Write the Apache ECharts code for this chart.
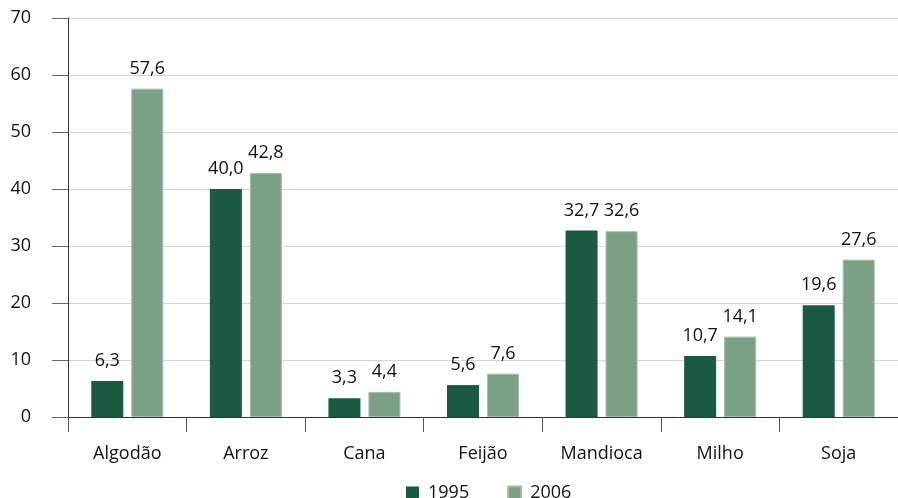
<!DOCTYPE html>
<html><head><meta charset="utf-8">
<script src="https://cdn.jsdelivr.net/npm/echarts@6/dist/echarts.min.js"></script>
<style>html,body{margin:0;padding:0;background:#fff}#c{width:898px;height:498px}</style>
</head><body><div id="c"></div>
<script>
const categories = ['Algodão','Arroz','Cana','Feijão','Mandioca','Milho','Soja'];
const values1995 = [6.3, 40.0, 3.3, 5.6, 32.7, 10.7, 19.6];
const values2006 = [57.6, 42.8, 4.4, 7.6, 32.6, 14.1, 27.6];
const seriesNames = ['1995','2006'];
const yTicks = {min: 0, max: 70, interval: 10};

const font = '"Open Sans", "Noto Sans", sans-serif';
const fmt = p => p.value.toFixed(1).replace('.', ',');
const chart = echarts.init(document.getElementById('c'));
chart.setOption({
  animation: false,
  textStyle: {fontFamily: font},
  grid: {left: 68, right: -6, top: 18, bottom: 81, containLabel: false},
  legend: {
    data: seriesNames, top: 479, left: 401, itemWidth: 13, itemHeight: 13, itemGap: 38,
    icon: 'rect', textStyle: {fontSize: 18, color: '#111', fontFamily: font, padding: [0,0,0,4]}
  },
  xAxis: {
    type: 'category', data: categories,
    axisLine: {lineStyle: {color: '#333', width: 1}},
    axisTick: {show: true, length: 15, lineStyle: {color: '#555'}},
    axisLabel: {fontSize: 18, color: '#111', margin: 28, fontFamily: font}
  },
  yAxis: {
    type: 'value', min: yTicks.min, max: yTicks.max, interval: yTicks.interval,
    axisLine: {show: true, lineStyle: {color: '#333'}},
    axisTick: {show: true, length: 16, lineStyle: {color: '#666'}},
    axisLabel: {fontSize: 18, color: '#111', margin: 37, fontFamily: font},
    splitLine: {lineStyle: {color: '#d4d4d4'}}
  },
  series: [
    {name: seriesNames[0], type: 'bar', data: values1995, barWidth: 32, barGap: '25%',
     itemStyle: {color: '#1a5a40'},
     label: {show: true, position: 'top', distance: 11, fontSize: 18, color: '#111', formatter: fmt, fontFamily: font}},
    {name: seriesNames[1], type: 'bar', data: values2006, barWidth: 32,
     itemStyle: {color: '#7ca083', borderColor: '#a5bca8', borderWidth: 1},
     label: {show: true, position: 'top', distance: 11, fontSize: 18, color: '#111', formatter: fmt, fontFamily: font}}
  ]
});
</script></body></html>
